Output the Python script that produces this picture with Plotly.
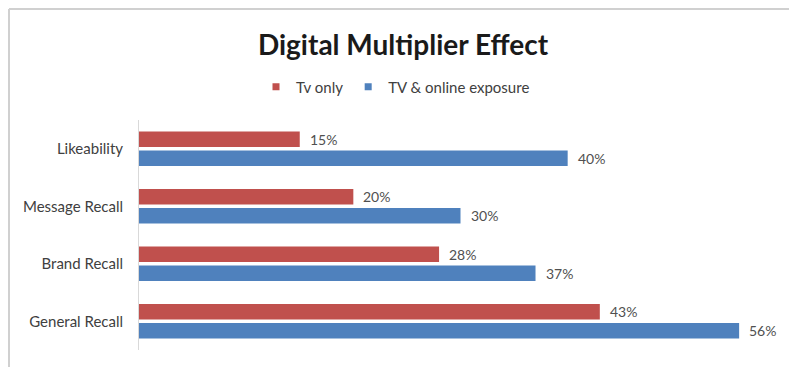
import plotly.graph_objects as go

# Chart data
categories = ["Likeability", "Message Recall", "Brand Recall", "General Recall"]
tv_only = [15, 20, 28, 43]
tv_online = [40, 30, 37, 56]
series_names = ["Tv only", "TV & online exposure"]

RED = "#C0504D"
BLUE = "#4F81BD"
FONT = "Lato, 'Open Sans', sans-serif"

W, H = 789, 367
L, R, T, B = 139, 7, 120, 17
plot_w = W - L - R
plot_h = H - T - B

fig = go.Figure()

for name, vals, color in [(series_names[0], tv_only, RED), (series_names[1], tv_online, BLUE)]:
    fig.add_trace(go.Bar(
        y=categories, x=vals, orientation="h", name=name,
        marker=dict(color=color, line=dict(width=0)),
        showlegend=False, hoverinfo="skip",
    ))

# small square legend markers
for name, color in [(series_names[0], RED), (series_names[1], BLUE)]:
    fig.add_trace(go.Scatter(
        x=[None], y=[None], mode="markers", name=name,
        marker=dict(symbol="square", size=7, color=color),
    ))

# value labels just past the bar ends
annotations = []
for vals, shift in [(tv_only, 9.5), (tv_online, -9.5)]:
    for cat, v in zip(categories, vals):
        annotations.append(dict(
            x=v, y=cat, xref="x", yref="y", text=f"{v}%",
            showarrow=False, xanchor="left", yanchor="middle",
            xshift=8, yshift=shift,
            font=dict(family=FONT, size=14, color="#505050"),
        ))

# outer frame (top and left edges)
fx0 = (9 - L) / plot_w
fy_top = 1 + (T - 9) / plot_h
shapes = [
    dict(type="line", xref="paper", yref="paper", x0=fx0, x1=2, y0=fy_top, y1=fy_top,
         line=dict(color="#D0D0D0", width=2)),
    dict(type="line", xref="paper", yref="paper", x0=fx0, x1=fx0, y0=fy_top, y1=-1,
         line=dict(color="#D0D0D0", width=2)),
]

fig.update_layout(
    width=W, height=H,
    margin=dict(l=L, r=R, t=T, b=B),
    paper_bgcolor="white", plot_bgcolor="white",
    barmode="group", bargap=0.34, bargroupgap=0.18,
    title=dict(
        text="<b>Digital Multiplier Effect</b>",
        x=403 / W, xref="container", xanchor="center",
        y=1 - 45 / H, yref="container", yanchor="middle",
        font=dict(family=FONT, size=28, color="#1a1a1a"),
    ),
    legend=dict(
        orientation="h", x=256 / W, xref="container", xanchor="left",
        y=1 - 87 / H, yref="container", yanchor="middle",
        font=dict(family=FONT, size=15, color="#404040"),
        itemwidth=30, tracegroupgap=0, bgcolor="rgba(0,0,0,0)",
    ),
    xaxis=dict(range=[0, 60], showgrid=False, zeroline=False, showticklabels=False,
               showline=False, fixedrange=True),
    yaxis=dict(autorange="reversed", showgrid=False, zeroline=False,
               showline=True, linecolor="#D9D9D9", linewidth=1,
               ticks="", ticklabelstandoff=12,
               tickfont=dict(family=FONT, size=15, color="#404040")),
    annotations=annotations,
    shapes=shapes,
)

fig.write_html("out.html")
